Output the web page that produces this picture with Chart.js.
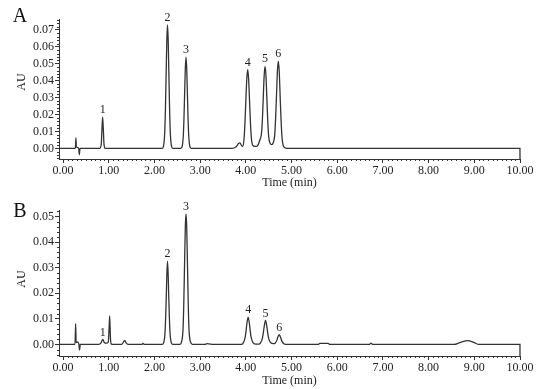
<!DOCTYPE html>
<html>
<head>
<meta charset="utf-8">
<script src="https://cdn.jsdelivr.net/npm/chart.js@4/dist/chart.umd.min.js"></script>
<style>
  html, body { margin: 0; padding: 0; background: #fff; }
  #wrap { position: relative; width: 550px; height: 389px; }
  canvas { position: absolute; left: 0; }
  #cA { top: 0; }
  #cB { top: 195px; }
</style>
</head>
<body>
<div id="wrap">
  <canvas id="cA" width="550" height="195"></canvas>
  <canvas id="cB" width="550" height="194"></canvas>
</div>
<script>
// ---------- DATA ----------
const xTicks = [0, 1, 2, 3, 4, 5, 6, 7, 8, 9, 10];
const yTicksA = [0, 0.01, 0.02, 0.03, 0.04, 0.05, 0.06, 0.07];
const yTicksB = [0, 0.01, 0.02, 0.03, 0.04, 0.05];

// Panel A chromatogram (time in min, absorbance in AU)
const timeA = [
  -0.09, 0.26, 0.27, 0.28, 0.29, 0.31, 0.34, 0.355, 0.37, 0.40,
  0.80, 0.835, 0.85, 0.865, 0.88, 0.895, 0.92,
  2.165, 2.195, 2.225, 2.24, 2.255, 2.27, 2.285, 2.30, 2.315, 2.33, 2.345, 2.375, 2.405,
  2.57, 2.60, 2.63, 2.645, 2.66, 2.675, 2.69, 2.705, 2.72, 2.735, 2.75, 2.78, 2.81,
  3.70, 3.78, 3.84, 3.87, 3.91, 3.93,
  3.96, 3.98, 4.00, 4.02, 4.04, 4.06, 4.08, 4.10, 4.12, 4.15, 4.20, 4.23,
  4.27, 4.30, 4.34, 4.36, 4.38, 4.40, 4.42, 4.44, 4.46, 4.48, 4.50, 4.53, 4.565,
  4.60, 4.63, 4.65, 4.67, 4.69, 4.71, 4.73, 4.75, 4.77, 4.79, 4.82, 4.87, 4.95,
  9.999, 10.0
];
const auA = [
  0, 0, 0.0005, 0.0062, 0.001, 0.0006, 0, -0.0038, 0, 0,
  0, 0.0025, 0.0113, 0.0185, 0.0113, 0.0025, 0,
  0, 0.001, 0.010, 0.024, 0.044, 0.064, 0.073, 0.064, 0.044, 0.024, 0.010, 0.001, 0,
  0, 0.0006, 0.0073, 0.0175, 0.0328, 0.0475, 0.054, 0.0475, 0.0328, 0.0175, 0.0073, 0.0006, 0,
  0, 0.0008, 0.0028, 0.0032, 0.0015, 0.0012,
  0.0055, 0.0152, 0.0285, 0.041, 0.0465, 0.041, 0.0285, 0.0152, 0.0063, 0.0018, 0.0012, 0.0012,
  0.0022, 0.0045, 0.0085, 0.0160, 0.0294, 0.0428, 0.0485, 0.0428, 0.0294, 0.0157, 0.0068, 0.0030, 0.0022,
  0.0035, 0.0075, 0.0170, 0.031, 0.0455, 0.0515, 0.0455, 0.031, 0.0170, 0.007, 0.0015, 0.0002, 0,
  0, -0.0063
];
const peakTimeA = [0.865, 2.285, 2.69, 4.04, 4.42, 4.71];
const peakAuA = [0.0185, 0.073, 0.054, 0.0465, 0.0485, 0.0515];
const peakLabels = ["1", "2", "3", "4", "5", "6"];

// Panel B chromatogram
const timeB = [
  -0.09, 0.26, 0.275, 0.285, 0.30, 0.32, 0.345, 0.36, 0.375, 0.42,
  0.78, 0.83, 0.87, 0.90, 0.95, 0.99, 1.005, 1.02, 1.035, 1.05, 1.10,
  1.28, 1.33, 1.35, 1.38, 1.42, 1.72, 1.75, 1.78,
  2.17, 2.20, 2.23, 2.245, 2.26, 2.27, 2.285, 2.30, 2.31, 2.325, 2.34, 2.37, 2.40,
  2.56, 2.59, 2.625, 2.64, 2.66, 2.675, 2.69, 2.705, 2.72, 2.74, 2.755, 2.79, 2.83,
  3.10, 3.15, 3.30,
  3.90, 3.94, 3.98, 4.00, 4.02, 4.05, 4.08, 4.10, 4.12, 4.16, 4.22,
  4.28, 4.32, 4.36, 4.38, 4.40, 4.43, 4.46, 4.48, 4.50, 4.54, 4.60,
  4.64, 4.68, 4.70, 4.73, 4.76, 4.79, 4.84, 4.90,
  5.58, 5.62, 5.80, 5.84, 6.70, 6.74, 6.78,
  8.55, 8.70, 8.85, 9.00, 9.10, 9.999, 10.0
];
const auB = [
  0, 0, 0.0081, 0.001, 0.0008, 0.001, 0, -0.0022, 0, 0,
  0, 0.0006, 0.002, 0.0008, 0.0005, 0.001, 0.006, 0.0112, 0.003, 0.0003, 0,
  0, 0.0012, 0.0016, 0.0006, 0, 0, 0.0004, 0,
  0, 0.0006, 0.0045, 0.011, 0.020, 0.027, 0.0325, 0.027, 0.020, 0.011, 0.0045, 0.0006, 0,
  0, 0.0009, 0.006, 0.015, 0.033, 0.046, 0.051, 0.046, 0.033, 0.015, 0.006, 0.0009, 0,
  0, 0.0003, 0,
  0, 0.0005, 0.0025, 0.0046, 0.0078, 0.0107, 0.0078, 0.0046, 0.0025, 0.0006, 0.0001,
  0.0001, 0.0006, 0.0023, 0.0043, 0.0069, 0.0094, 0.0069, 0.0043, 0.0023, 0.0008, 0.0003,
  0.0005, 0.0017, 0.0029, 0.0038, 0.0028, 0.0012, 0.0002, 0,
  0, 0.0004, 0.0004, 0, 0, 0.0005, 0,
  0, 0.0008, 0.0015, 0.0007, 0, 0, -0.0045
];
const peakTimeB = [0.87, 2.285, 2.69, 4.05, 4.43, 4.73];
const peakAuB = [0.002, 0.0325, 0.051, 0.0107, 0.0094, 0.0038];

// ---------- DRAWING ----------
const SERIF = "'Liberation Serif', 'Times New Roman', serif";
const INK = '#333333';

function makeChart(canvasId, times, values, yTicks, yMin, yMax, pTimes, pVals, letter, padTop, plotH, auY, titlePadBottom) {
  const H = document.getElementById(canvasId).height;
  const xAxisH = H - padTop - plotH;
  const decor = {
    id: 'decor',
    afterDraw(chart) {
      const ctx = chart.ctx;
      const xs = chart.scales.x, ys = chart.scales.y, ca = chart.chartArea;
      ctx.save();
      ctx.strokeStyle = INK;
      ctx.lineWidth = 1;
      ctx.beginPath();
      for (let i = 0; i <= 100; i++) {
        if (i % 10 === 0) continue;
        const px = Math.round(xs.getPixelForValue(i / 10)) + 0.5;
        ctx.moveTo(px, ca.bottom);
        ctx.lineTo(px, ca.bottom + 2);
      }
      const iMin = Math.ceil(yMin / 0.002), iMax = Math.floor(yMax / 0.002);
      for (let i = iMin; i <= iMax; i++) {
        if (i % 5 === 0) continue;
        const py = Math.round(ys.getPixelForValue(i * 0.002)) + 0.5;
        ctx.moveTo(ca.left - 2, py);
        ctx.lineTo(ca.left, py);
      }
      ctx.stroke();
      ctx.fillStyle = '#222';
      ctx.font = '12px ' + SERIF;
      ctx.textAlign = 'center';
      ctx.textBaseline = 'bottom';
      for (let k = 0; k < pTimes.length; k++) {
        const px = xs.getPixelForValue(pTimes[k]);
        const py = ys.getPixelForValue(pVals[k]);
        ctx.fillText(peakLabels[k], px, py - 1);
      }
      ctx.font = '20px ' + SERIF;
      ctx.textAlign = 'center';
      ctx.textBaseline = 'middle';
      ctx.fillStyle = '#111';
      ctx.fillText(letter, 20, 17);
      ctx.font = '12px ' + SERIF;
      ctx.translate(22, auY);
      ctx.rotate(-Math.PI / 2);
      ctx.fillStyle = '#222';
      ctx.fillText('AU', 0, 0);
      ctx.restore();
    }
  };

  return new Chart(document.getElementById(canvasId), {
    type: 'line',
    data: {
      datasets: [{
        data: times.map((t, i) => ({ x: t, y: values[i] })),
        borderColor: '#333333',
        borderWidth: 1.3,
        pointRadius: 0,
        fill: false,
        clip: 2,
        cubicInterpolationMode: 'monotone'
      }]
    },
    options: {
      responsive: false,
      animation: false,
      events: [],
      layout: { padding: { left: 0, right: 30, top: padTop, bottom: 0 } },
      plugins: { legend: { display: false }, tooltip: { enabled: false } },
      scales: {
        x: {
          type: 'linear',
          min: -0.09,
          max: 10,
          afterBuildTicks(scale) { scale.ticks = xTicks.map(v => ({ value: v })); },
          afterFit(scale) { scale.height = xAxisH; },
          grid: { drawOnChartArea: false, tickLength: 4, color: INK, tickWidth: 1 },
          border: { display: true, color: INK, width: 1 },
          ticks: {
            autoSkip: false, maxRotation: 0, padding: 1,
            color: '#222', font: { family: SERIF, size: 12 },
            callback: v => Number(v).toFixed(2)
          },
          title: {
            display: true, text: 'Time (min)', color: '#222',
            font: { family: SERIF, size: 12 }, padding: { top: 0, bottom: titlePadBottom }
          }
        },
        y: {
          type: 'linear',
          min: yMin,
          max: yMax,
          afterBuildTicks(scale) { scale.ticks = yTicks.map(v => ({ value: v })); },
          afterFit(scale) { scale.width = 59; },
          grid: { drawOnChartArea: false, tickLength: 4, color: INK, tickWidth: 1 },
          border: { display: true, color: INK, width: 1 },
          ticks: {
            autoSkip: false, padding: 1,
            color: '#222', font: { family: SERIF, size: 12 },
            callback: v => Number(v).toFixed(2)
          }
        }
      }
    },
    plugins: [decor]
  });
}

makeChart('cA', timeA, auA, yTicksA, -0.0063, 0.0765, peakTimeA, peakAuA, 'A', 19, 140, 82, 5);
makeChart('cB', timeB, auB, yTicksB, -0.0045, 0.0525, peakTimeB, peakAuB, 'B', 15, 146, 84, 1);
</script>
</body>
</html>
